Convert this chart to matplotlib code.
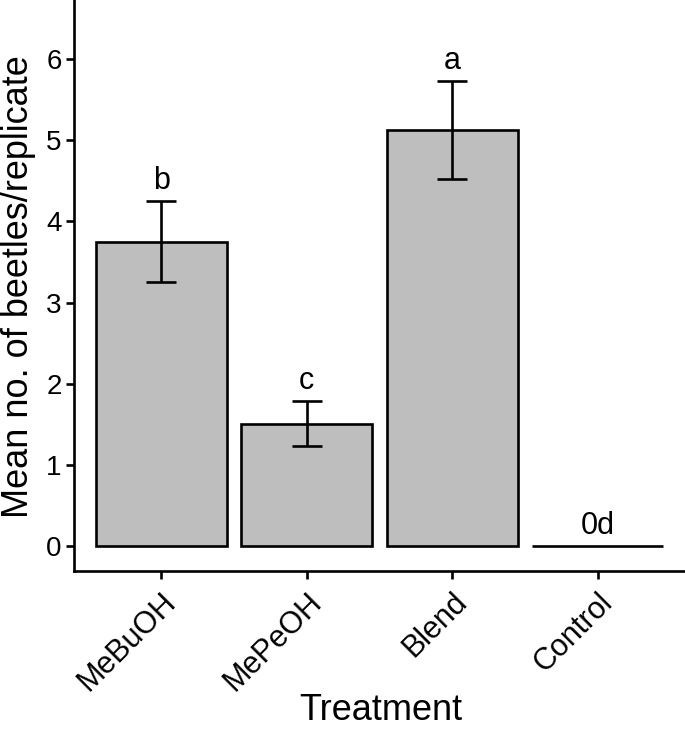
import matplotlib.pyplot as plt
import numpy as np

# Mean beetles per replicate, with SE bars and significance letters
treatments = ['MeBuOH', 'MePeOH', 'Blend', 'Control']
means = [3.75, 1.50, 5.13, 0.0]
err_upper = [4.25, 1.78, 5.73, 0.0]
err_lower = [3.25, 1.23, 4.52, 0.0]
letters = ['b', 'c', 'a', '0d']

plt.rcParams['font.family'] = ['Liberation Sans', 'DejaVu Sans']

W, H = 685, 729
fig = plt.figure(figsize=(W / 100, H / 100), dpi=100)
ax = fig.add_axes([74 / W, (H - 571) / H, 1 - 74 / W, 571 / H])

x = np.arange(1, len(treatments) + 1)
means = np.array(means)
lo = means - np.array(err_lower)
hi = np.array(err_upper) - means

lw = 1.9
ax.bar(x, means, width=0.9, color='#bebebe', edgecolor='black', linewidth=lw, zorder=2)

# no error bar for the control (zero catch)
has_err = np.array(err_upper) > 0
ax.errorbar(x[has_err], means[has_err], yerr=[lo[has_err], hi[has_err]], fmt='none',
            ecolor='black', elinewidth=lw, capsize=11, capthick=lw, zorder=3)

for xi, top, lab in zip(x, err_upper, letters):
    ax.text(xi, top + 0.15, lab, ha='center', va='baseline', fontsize=22)

ax.set_xlim(0.4, 4.6)
ax.set_ylim(-0.31, 6.73)
ax.set_yticks(range(0, 7))
ax.set_xticks(x)
ax.set_xticklabels(treatments, rotation=45, ha='right', rotation_mode='anchor')

for side in ['top', 'right']:
    ax.spines[side].set_visible(False)
for side in ['left', 'bottom']:
    ax.spines[side].set_linewidth(lw)
ax.tick_params(axis='both', length=5.5, width=lw, colors='black')
ax.tick_params(axis='y', labelsize=20, pad=3.5)
ax.tick_params(axis='x', labelsize=22, pad=6)

# axis titles placed in figure pixels, like the reference
fig.text(28 / W, (H - 287) / H, 'Mean no. of beetles/replicate', fontsize=26,
         rotation=90, rotation_mode='anchor', ha='center', va='baseline')
fig.text(381 / W, 9 / H, 'Treatment', fontsize=26, ha='center', va='baseline')

fig.savefig('out.png', dpi=100)
